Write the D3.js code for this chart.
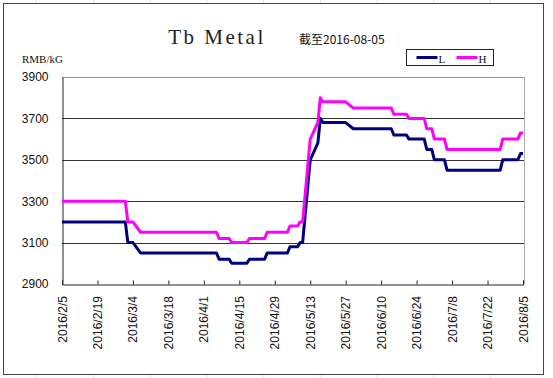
<!DOCTYPE html>
<html>
<head>
<meta charset="utf-8">
<script src="https://cdn.jsdelivr.net/npm/d3@7"></script>
<style>
  body { margin: 0; background: #fff; }
  svg { display: block; }
</style>
</head>
<body>
<div id="chart"></div>
<script>
// step points (business days where the price changes)
const dates = [
  "2016-02-05", "2016-03-01", "2016-03-02", "2016-03-04", "2016-03-07",
  "2016-04-06", "2016-04-07", "2016-04-11", "2016-04-12", "2016-04-18",
  "2016-04-19", "2016-04-25", "2016-04-26", "2016-05-04", "2016-05-05",
  "2016-05-08", "2016-05-09", "2016-05-10", "2016-05-13", "2016-05-16",
  "2016-05-17", "2016-05-18", "2016-05-27", "2016-05-30", "2016-06-14",
  "2016-06-15", "2016-06-20", "2016-06-21", "2016-06-27", "2016-06-28",
  "2016-06-30", "2016-07-01", "2016-07-05", "2016-07-06", "2016-07-27",
  "2016-07-28", "2016-08-03", "2016-08-04", "2016-08-05"
];
const lowPrices = [
  3200, 3200, 3100, 3100, 3050,
  3050, 3020, 3020, 3000, 3000,
  3020, 3020, 3050, 3050, 3080,
  3080, 3100, 3100, 3500, 3580,
  3700, 3680, 3680, 3650, 3650,
  3620, 3620, 3600, 3600, 3550,
  3550, 3500, 3500, 3450, 3450,
  3500, 3500, 3530, 3530
];
const highPrices = [
  3300, 3300, 3200, 3200, 3150,
  3150, 3120, 3120, 3100, 3100,
  3120, 3120, 3150, 3150, 3180,
  3180, 3200, 3200, 3600, 3680,
  3800, 3780, 3780, 3750, 3750,
  3720, 3720, 3700, 3700, 3650,
  3650, 3600, 3600, 3550, 3550,
  3600, 3600, 3630, 3630
];
const yTicks = [2900, 3100, 3300, 3500, 3700, 3900];
const seriesNames = ["L", "H"];
const seriesColors = ["#000080", "#ff00ff"];

const width = 553, height = 378;
const plot = { left: 62, right: 523, top: 77, bottom: 284 };
const parse = d3.timeParse("%Y-%m-%d");
const fmt = d3.timeFormat("%Y/%-m/%-d");

const svg = d3.select("#chart").append("svg")
    .attr("width", width)
    .attr("height", height);

// sheet cell lines behind the chart object
const bg = svg.append("g").attr("stroke", "#e4e4e4").attr("stroke-width", 1);
[109, 281, 451, 621, 791, 961, 1131, 1301, 1471].forEach(x => {
    bg.append("line").attr("x1", x / 3).attr("x2", x / 3).attr("y1", 0).attr("y2", height);
});

svg.append("rect")
    .attr("x", 3.5).attr("y", 3.5)
    .attr("width", 540).attr("height", 371)
    .attr("fill", "#fff")
    .attr("stroke", "#444")
    .attr("stroke-width", 1);

const x = d3.scaleTime()
    .domain([parse("2016-02-05"), parse("2016-08-05")])
    .range([plot.left, plot.right]);
const y = d3.scaleLinear()
    .domain([2900, 3900])
    .range([plot.bottom, plot.top]);

// gridlines
svg.append("g")
    .selectAll("line")
    .data(yTicks.slice(1))
    .enter().append("line")
    .attr("x1", plot.left).attr("x2", plot.right + 1)
    .attr("y1", d => Math.round(y(d)) + 0.5).attr("y2", d => Math.round(y(d)) + 0.5)
    .attr("stroke", d => d === 3900 ? "#999" : "#333")
    .attr("stroke-width", 1);

svg.append("line")
    .attr("x1", plot.right + 1.5).attr("x2", plot.right + 1.5)
    .attr("y1", plot.top).attr("y2", plot.bottom)
    .attr("stroke", "#aaa");

// y axis
const yAxis = svg.append("g")
    .attr("transform", `translate(${plot.left + 0.5},0)`)
    .call(d3.axisLeft(y).tickValues(yTicks).tickSize(0).tickPadding(14).tickFormat(d3.format("d")));
yAxis.select(".domain").attr("stroke", "#222");
yAxis.selectAll("text")
    .style("font-family", "'Liberation Sans', Arial, sans-serif")
    .style("font-size", "12px")
    .style("fill", "#111");

// x axis
const xTickDates = d3.timeDay.range(parse("2016-02-05"), parse("2016-08-06"), 14);
const xAxis = svg.append("g")
    .attr("transform", `translate(0,${plot.bottom + 0.5})`)
    .call(d3.axisTop(x).tickValues(xTickDates).tickSize(4).tickFormat(""));
xAxis.select(".domain").attr("stroke", "#222");
xAxis.selectAll("line").attr("stroke", "#222");

svg.append("g")
    .selectAll("text")
    .data(xTickDates)
    .enter().append("text")
    .attr("transform", d => `translate(${x(d) + 4.5},${plot.bottom + 12}) rotate(-90)`)
    .attr("text-anchor", "end")
    .style("font-family", "'Liberation Sans', Arial, sans-serif")
    .style("font-size", "12px")
    .style("fill", "#111")
    .text(d => fmt(d));

// lines
const points = dates.map(parse);
const line = d3.line().x((d, i) => x(points[i])).y(d => y(d));
[lowPrices, highPrices].forEach((vals, k) => {
    svg.append("path")
        .datum(vals)
        .attr("fill", "none")
        .attr("stroke", seriesColors[k])
        .attr("stroke-width", 3)
        .attr("stroke-linejoin", "round")
        .attr("d", line);
});

// titles
svg.append("text")
    .attr("x", 217).attr("y", 44)
    .attr("text-anchor", "middle")
    .style("font-family", "'Liberation Serif', serif")
    .style("font-size", "21px")
    .style("letter-spacing", "2.5px")
    .style("fill", "#222")
    .text("Tb Metal");

svg.append("text")
    .attr("x", 299).attr("y", 44)
    .style("font-family", "'Noto Sans CJK SC', sans-serif")
    .style("font-size", "12px")
    .style("fill", "#111")
    .text("截至2016-08-05");

svg.append("text")
    .attr("x", 22).attr("y", 63)
    .style("font-family", "'Liberation Serif', serif")
    .style("font-size", "11px")
    .style("fill", "#111")
    .text("RMB/kG");

// legend
const legend = svg.append("g").attr("transform", "translate(406.5,49.5)");
legend.append("rect")
    .attr("width", 87).attr("height", 16)
    .attr("fill", "#fff").attr("stroke", "#222");
seriesNames.forEach((name, k) => {
    const g = legend.append("g").attr("transform", `translate(${10 + k * 40},8)`);
    g.append("line").attr("x1", 0).attr("x2", 21)
        .attr("stroke", seriesColors[k]).attr("stroke-width", 3);
    g.append("text").attr("x", 22).attr("y", 5)
        .style("font-family", "'Liberation Serif', serif")
        .style("font-size", "11px")
        .style("fill", "#111")
        .text(name);
});
</script>
</body>
</html>
